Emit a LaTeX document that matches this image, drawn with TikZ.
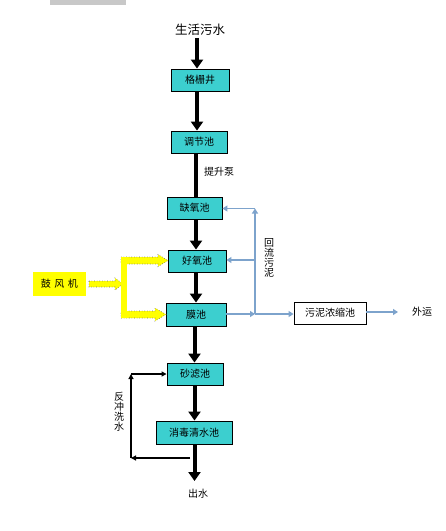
\documentclass[tikz,border=0pt]{standalone}
\usepackage{fontspec}
\setmainfont{Noto Sans CJK SC}
\usetikzlibrary{arrows.meta}
\definecolor{boxcyan}{RGB}{60,207,207}
\definecolor{flowblue}{RGB}{125,163,204}
\definecolor{bargray}{RGB}{200,200,200}
\definecolor{blowyellow}{RGB}{255,255,0}
\begin{document}
\begin{tikzpicture}[x=1pt,y=-1pt,
  proc/.style={draw=black, line width=0.9pt, fill=boxcyan, minimum height=22pt, inner sep=0pt, font=\fontsize{10}{12}\selectfont},
  plain/.style={inner sep=0pt, font=\fontsize{10}{12}\selectfont},
  vlabel/.style={inner sep=0pt, align=center, font=\fontsize{10}{10}\selectfont},
  mainflow/.style={line width=4pt, -{Triangle[width=12pt,length=9pt]}},
  sludge/.style={draw=flowblue, line width=1.5pt, -{Triangle[width=6pt,length=5pt]}},
  wash/.style={line width=1.2pt, -{Triangle[width=5pt,length=5pt]}},
  air/.style={fill=blowyellow, draw=black!60, dotted, line width=0.6pt}
]
\useasboundingbox (0,0) rectangle (446,531);
\fill[bargray] (50,0) rectangle (126,5);

% nodes
\node[inner sep=2pt, font=\fontsize{12.5}{14}\selectfont] (src) at (200,30) {生活污水};
\node[proc, minimum width=58pt] (gs) at (200,80) {格栅井};
\node[proc, minimum width=56pt] (tj) at (199,142) {调节池};
\node[proc, minimum width=55pt] (qy) at (194.5,208) {缺氧池};
\node[proc, minimum width=58pt] (hy) at (197,261) {好氧池};
\node[proc, minimum width=60pt, minimum height=23pt] (mc) at (196,314.5) {膜池};
\node[proc, minimum width=56pt] (sl) at (195,374) {砂滤池};
\node[proc, minimum width=76pt, minimum height=23pt] (xd) at (194,432.5) {消毒清水池};
\node[proc, fill=white, minimum width=72pt] (nc) at (330,313) {污泥浓缩池};
\node[plain] (wy) at (422,312) {外运};
\node[plain] (cs) at (198,494) {出水};
\node[fill=blowyellow, minimum width=53pt, minimum height=24pt, inner sep=0pt, font=\fontsize{10}{12}\selectfont] (gf) at (59.5,284) {鼓\hspace{0.35em}风\hspace{0.35em}机};
\node[plain] (pump) at (219,172) {提升泵};
\node[vlabel] (hl) at (269,258) {回\\流\\污\\泥};
\node[vlabel] (fc) at (119,412) {反\\冲\\洗\\水};

% helper coordinates
\coordinate (c1) at (197,0);
\coordinate (c2) at (196,0);
\coordinate (c3) at (194.5,0);
\coordinate (outend) at (194.5,481);
\coordinate (jct) at (255,314);
\coordinate (rtop) at (255,208.5);
\coordinate (rmid) at (255,260);
\coordinate (bw1) at (190,458);
\coordinate (bw2) at (131,458);
\coordinate (bw3) at (131,374);
\coordinate (wyend) at (398,312);

% main flow
\draw[mainflow] (src.south -| c1) -- (gs.north -| c1);
\draw[mainflow] (gs.south -| c1) -- (tj.north -| c1);
\draw[line width=4pt] (tj.south -| c2) -- (qy.north -| c2);
\draw[mainflow] (qy.south -| c2) -- (hy.north -| c2);
\draw[mainflow] (hy.south -| c2) -- (mc.north -| c2);
\draw[mainflow] (mc.south -| c3) -- (sl.north -| c3);
\draw[mainflow] (sl.south -| c3) -- (xd.north -| c3);
\draw[mainflow] (xd.south -| c3) -- (outend);

% sludge recycle
\draw[sludge] (mc.east |- jct) -- (jct);
\draw[sludge] (jct) -- (nc.west |- jct);
\draw[sludge] (jct) -- (rtop);
\draw[sludge] (rtop) -- (qy.east |- rtop);
\draw[sludge] (rmid) -- (hy.east |- rmid);
\draw[sludge] (nc.east |- wyend) -- (wyend);

% backwash
\draw[wash] (bw1) -- (bw2);
\draw[wash] (bw2) -- (bw3);
\draw[wash] (bw3) -- (sl.west |- bw3);

% air supply
\draw[air] (89,281) -- (115,281) -- (115,278) -- (123,284) -- (115,290) -- (115,287) -- (89,287) -- cycle;
\draw[air] (121,257) -- (158,257) -- (158,254.5) -- (168,260.5) -- (158,266.5) -- (158,264) -- (121,264) -- cycle;
\draw[air] (121,311) -- (155,311) -- (155,308) -- (166,314.5) -- (155,321) -- (155,318) -- (121,318) -- cycle;
\fill[blowyellow] (121.3,257.4) rectangle (127,317.6);
\end{tikzpicture}
\end{document}
